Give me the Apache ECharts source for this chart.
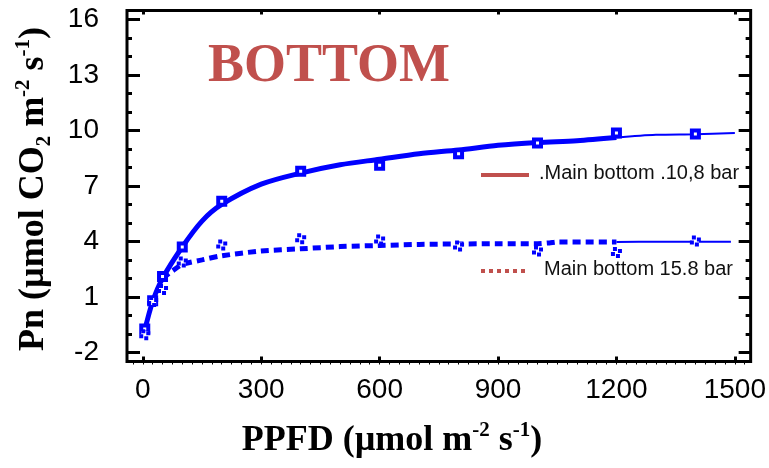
<!DOCTYPE html>
<html>
<head>
<meta charset="utf-8">
<script src="https://cdn.jsdelivr.net/npm/echarts@6/dist/echarts.min.js"></script>
<style>
html,body{margin:0;padding:0;background:#fff;}
#chart{width:769px;height:468px;}
</style>
</head>
<body>
<div id="chart"></div>
<script>
// ---- data ----
const xTicks = [0, 300, 600, 900, 1200, 1500];
const yTicks = [-2, 1, 4, 7, 10, 13, 16];
const yMinorTicks = [-2, -1, 0, 1, 2, 3, 4, 5, 6, 7, 8, 9, 10, 11, 12, 13, 14, 15, 16];

const ppfd = [5, 25, 50, 100, 200, 400, 600, 800, 1000, 1200, 1400];
const pnBar108 = [-0.74, 0.79, 2.10, 3.70, 6.18, 7.80, 8.12, 8.74, 9.33, 9.87, 9.81];
const pnBar158 = [-1.05, 0.75, 1.40, 2.88, 3.80, 4.15, 4.08, 3.75, 3.48, 3.40, 4.02];

const fit108X = [5, 25, 50, 100, 150, 200, 300, 400, 500, 600, 700, 800, 900, 1000, 1100, 1200];
const fit108Y = [-0.8, 0.75, 2.0, 3.7, 5.1, 6.0, 7.1, 7.7, 8.15, 8.45, 8.75, 8.95, 9.2, 9.35, 9.45, 9.62];
const tail108X = [1200, 1300, 1400, 1500];
const tail108Y = [9.62, 9.77, 9.8, 9.87];

const fit158X = [50, 75, 100, 150, 200, 300, 400, 500, 600, 700, 800, 900, 1000, 1030, 1050, 1200];
const fit158Y = [2.0, 2.4, 2.75, 3.0, 3.22, 3.48, 3.6, 3.72, 3.78, 3.84, 3.86, 3.88, 3.88, 3.92, 3.97, 3.97];
const tail158X = [1200, 1300, 1400, 1490];
const tail158Y = [3.97, 3.98, 3.98, 3.98];

const legendNames = ['.Main bottom .10,8 bar', 'Main bottom 15.8 bar'];
const panelTitle = 'BOTTOM';

// ---- helpers ----
const pairs = (xs, ys) => xs.map((x, i) => [x, ys[i]]);
const xMinor = [];
for (let v = -25; v <= 1525; v += 25) xMinor.push(v);

const BLUE = '#0000ff';
const RED = '#C0504D';
const SANS = '"Liberation Sans", Arial, sans-serif';
const SERIF = '"Liberation Serif", "Times New Roman", serif';

const chart = echarts.init(document.getElementById('chart'), null, {renderer: 'canvas'});

const hiddenLine = {show: false, onZero: false};
const xBase = {gridIndex: 0, type: 'value', min: -40, max: 1540, splitLine: {show: false}, axisLine: hiddenLine};
const yBase = {gridIndex: 0, type: 'value', min: -2.5, max: 16.5, splitLine: {show: false}, axisLine: hiddenLine};
const tick = (vals, len, inside, w) => ({show: true, inside: inside, length: len, customValues: vals, lineStyle: {color: '#000', width: w}});
const noLabel = {show: false};
const plain = v => String(v);

const option = {
  animation: false,
  backgroundColor: '#fff',
  grid: [{left: 127, right: 12, top: 10.5, bottom: 106.5, show: true, borderColor: '#000', borderWidth: 3, backgroundColor: 'transparent'}],
  xAxis: [
    Object.assign({}, xBase, {position: 'bottom', axisTick: tick(xTicks, 5, true, 3),
      axisLabel: {show: true, customValues: xTicks, formatter: plain, fontSize: 28, fontFamily: SANS, color: '#000', margin: 15}}),
    Object.assign({}, xBase, {position: 'bottom', axisTick: tick(xMinor, 3, false, 1), axisLabel: noLabel}),
    Object.assign({}, xBase, {position: 'top', axisTick: tick(xTicks, 4, true, 3), axisLabel: noLabel})
  ],
  yAxis: [
    Object.assign({}, yBase, {position: 'left', axisTick: tick(yTicks, 13, true, 3),
      axisLabel: {show: true, customValues: yTicks, formatter: plain, fontSize: 28, fontFamily: SANS, color: '#000', margin: 28}}),
    Object.assign({}, yBase, {position: 'left', axisTick: tick(yMinorTicks, 5, true, 3), axisLabel: noLabel}),
    Object.assign({}, yBase, {position: 'right', axisTick: tick(yTicks, 12, true, 3), axisLabel: noLabel}),
    Object.assign({}, yBase, {position: 'right', axisTick: tick(yMinorTicks, 5, true, 3), axisLabel: noLabel})
  ],
  series: [
    {name: legendNames[0], type: 'line', xAxisIndex: 0, yAxisIndex: 0, data: pairs(fit108X, fit108Y),
      smooth: 0.3, showSymbol: false, lineStyle: {color: BLUE, width: 5}, z: 2},
    {name: legendNames[0], type: 'line', xAxisIndex: 0, yAxisIndex: 0, data: pairs(tail108X, tail108Y),
      smooth: 0.3, showSymbol: false, lineStyle: {color: BLUE, width: 2}, z: 2},
    {name: legendNames[1], type: 'line', xAxisIndex: 0, yAxisIndex: 0, data: pairs(fit158X, fit158Y),
      smooth: 0.3, showSymbol: false, lineStyle: {color: BLUE, width: 5, type: [8, 5]}, z: 2},
    {name: legendNames[1], type: 'line', xAxisIndex: 0, yAxisIndex: 0, data: pairs(tail158X, tail158Y),
      smooth: 0.3, showSymbol: false, lineStyle: {color: BLUE, width: 2}, z: 2},
    {name: legendNames[0], type: 'scatter', xAxisIndex: 0, yAxisIndex: 0, data: pairs(ppfd, pnBar108),
      symbol: 'rect', symbolSize: 7, itemStyle: {color: '#fff', borderColor: BLUE, borderWidth: 4, opacity: 1}, z: 4},
    {name: legendNames[1], type: 'scatter', xAxisIndex: 0, yAxisIndex: 0, data: pairs(ppfd, pnBar158),
      symbol: 'rect', symbolSize: 7, itemStyle: {color: '#fff', borderColor: BLUE, borderWidth: 4, borderType: [4, 3], opacity: 1}, z: 4}
  ],
  graphic: [
    {type: 'text', x: 329, y: 67, z: 10,
      style: {text: panelTitle, fill: RED, fontSize: 54, fontWeight: 'bold', fontFamily: SERIF, textAlign: 'center', textVerticalAlign: 'middle'}},
    // legend entries
    {type: 'line', z: 10, shape: {x1: 481, y1: 175, x2: 529, y2: 175}, style: {stroke: RED, lineWidth: 4}},
    {type: 'text', z: 10, x: 539, y: 173, style: {text: legendNames[0], fill: '#111', fontSize: 20, fontFamily: SANS, textAlign: 'left', textVerticalAlign: 'middle'}},
    {type: 'line', z: 10, shape: {x1: 481, y1: 271, x2: 527, y2: 271}, style: {stroke: RED, lineWidth: 4, lineDash: [4, 4]}},
    {type: 'text', z: 10, x: 544, y: 269, style: {text: legendNames[1], fill: '#111', fontSize: 20, fontFamily: SANS, textAlign: 'left', textVerticalAlign: 'middle'}},
    // axis titles
    {type: 'text', z: 10, x: 392, y: 441,
      style: {text: 'PPFD (µmol m{sup|-2} s{sup|-1})', fill: '#000', fontSize: 36, fontWeight: 'bold', fontFamily: SERIF,
        textAlign: 'center', textVerticalAlign: 'middle',
        rich: {sup: {fontSize: 21, fontWeight: 'bold', fontFamily: SERIF, verticalAlign: 'top', lineHeight: 42}}}},
    {type: 'text', z: 10, x: 34, y: 189, rotation: Math.PI / 2,
      style: {text: 'Pn (µmol CO{sub|2} m{sup|-2} s{sup|-1})', fill: '#000', fontSize: 36, fontWeight: 'bold', fontFamily: SERIF,
        textAlign: 'center', textVerticalAlign: 'middle',
        rich: {sup: {fontSize: 21, fontWeight: 'bold', fontFamily: SERIF, verticalAlign: 'top', lineHeight: 42},
               sub: {fontSize: 21, fontWeight: 'bold', fontFamily: SERIF, verticalAlign: 'bottom', lineHeight: 42}}}}
  ]
};
chart.setOption(option);
</script>
</body>
</html>
